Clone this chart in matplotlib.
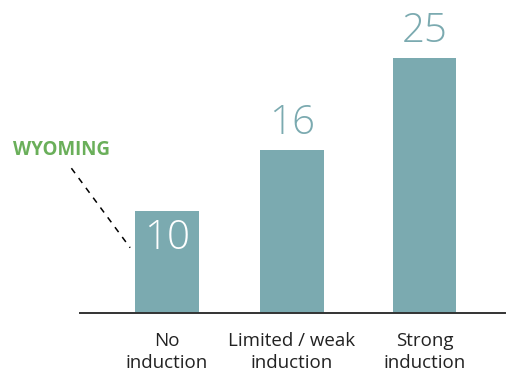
import matplotlib
matplotlib.use('Agg')
import matplotlib.pyplot as plt

# data
categories = ['No\ninduction', 'Limited / weak\ninduction', 'Strong\ninduction']
values = [10, 16, 25]
highlight_label = 'WYOMING'

# styles
BAR = '#7BAAB0'
GREEN = '#6AAF5A'
TEXT = '#222222'
FONT = ['Open Sans', 'DejaVu Sans']

positions = [0, 1, 2.06]
bar_width = 0.51

fig = plt.figure(figsize=(5.08, 3.78), dpi=100)
ax = fig.add_axes([0.1575, 0.172, 0.8366, 0.828])

ax.bar(positions, values, width=bar_width, color=BAR, zorder=2)

for i, (x, v) in enumerate(zip(positions, values)):
    if i == 0:
        ax.text(x, v - 0.7, str(v), ha='center', va='top', color='white',
                fontsize=29, family=FONT, fontweight='light')
    else:
        ax.text(x, v + 0.6, str(v), ha='center', va='bottom', color=BAR,
                fontsize=29, family=FONT, fontweight='light')

ax.set_xlim(-0.696, 2.704)
ax.set_ylim(0, 30.7)
ax.set_xticks(positions)
ax.set_xticklabels(categories, fontsize=13.5, color=TEXT, family=FONT,
                   linespacing=1.25)
ax.tick_params(axis='x', length=0, pad=14)
ax.set_yticks([])
for s in ['top', 'right', 'left']:
    ax.spines[s].set_visible(False)
ax.spines['bottom'].set_color('#333333')
ax.spines['bottom'].set_linewidth(1.4)

# annotation for first bar
x0 = positions[0] - bar_width / 2
ax.plot([x0 - 0.51, x0 - 0.04], [14.2, 6.4], color='black', lw=1.1,
        ls=(0, (4, 4)), clip_on=False)
ax.text(x0 - 0.59, 16.0, highlight_label, ha='center', va='center',
        color=GREEN, fontsize=13.5, fontweight='bold', family=FONT)

fig.savefig('out.png', dpi=100, facecolor='white')
